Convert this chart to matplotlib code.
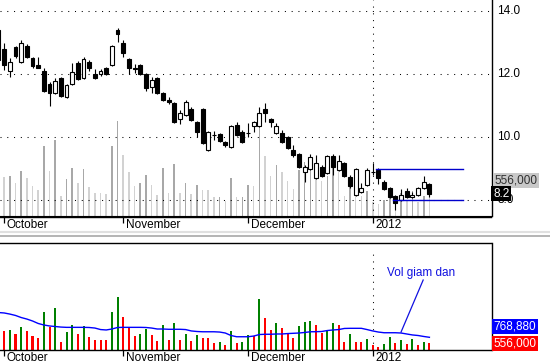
import matplotlib
matplotlib.use("Agg")
import matplotlib.pyplot as plt
from matplotlib.lines import Line2D

plt.rcParams["font.family"] = ["Liberation Sans", "DejaVu Sans"]

# daily candles, Sep 30 2011 .. Jan 2012 (price, thousand VND)
opens = [13.40, 12.79, 12.10, 12.86, 12.38, 12.89, 12.51, 12.29, 12.10, 11.68,
         11.40, 11.87, 11.27, 11.68, 12.35, 11.87, 12.38, 12.00, 12.00, 12.19,
         12.29, 13.40, 12.98, 12.48, 12.19, 12.29, 12.00, 11.59, 11.87, 11.40,
         11.17, 11.08, 10.57, 10.70, 10.89, 10.48, 10.89, 9.59, 10.07, 10.10,
         9.84, 9.68, 10.38, 10.16, 10.13, 10.35, 10.35, 10.89, 10.57, 10.13,
         10.13, 10.00, 9.59, 9.46, 8.89, 8.98, 8.70, 9.05, 8.86, 9.40,
         8.95, 9.17, 8.73, 8.16, 8.25, 8.47, 8.89, 8.95, 8.57, 8.38,
         8.13, 8.00, 8.29, 8.10, 8.16, 8.38, 8.51]
highs = [13.56, 12.98, 12.51, 12.89, 13.08, 12.95, 12.54, 12.54, 12.19, 11.75,
         11.87, 11.90, 11.68, 12.35, 12.41, 12.54, 12.44, 12.16, 12.16, 12.22,
         12.92, 13.46, 13.08, 12.51, 12.32, 12.32, 12.03, 11.90, 11.90, 11.43,
         11.27, 11.11, 10.86, 11.17, 10.95, 10.51, 10.92, 10.19, 10.19, 10.13,
         9.87, 10.38, 10.48, 10.22, 10.44, 10.51, 10.95, 11.08, 10.60, 10.44,
         10.22, 10.03, 9.75, 9.49, 9.11, 9.46, 9.43, 9.11, 9.43, 9.46,
         9.43, 9.21, 8.79, 9.02, 8.54, 9.02, 9.17, 9.02, 8.63, 8.41,
         8.16, 8.35, 8.38, 8.25, 8.41, 8.76, 8.54]
lows = [12.22, 12.13, 11.90, 12.51, 12.35, 12.51, 12.19, 12.19, 11.43, 10.98,
        11.37, 11.27, 11.24, 11.65, 11.81, 11.84, 12.10, 11.84, 11.94, 11.97,
        12.25, 13.02, 12.54, 12.00, 12.03, 11.97, 11.46, 11.40, 11.37, 11.14,
        11.05, 10.44, 10.41, 10.67, 10.51, 10.00, 9.78, 9.56, 9.90, 9.84,
        9.68, 9.65, 10.03, 9.81, 10.00, 10.16, 10.32, 10.48, 10.32, 10.10,
        9.81, 9.62, 9.37, 9.02, 8.57, 8.95, 8.67, 8.73, 8.83, 8.79,
        8.92, 8.73, 8.38, 8.13, 8.22, 8.44, 8.79, 8.51, 8.32, 8.06,
        7.68, 7.97, 8.06, 8.06, 8.13, 8.35, 8.10]
closes = [12.44, 12.29, 12.38, 12.57, 12.98, 12.54, 12.25, 12.19, 11.46, 11.40,
          11.78, 11.30, 11.65, 12.06, 11.84, 12.48, 12.19, 11.87, 12.10, 12.00,
          12.89, 13.27, 12.67, 12.19, 12.17, 12.00, 11.56, 11.81, 11.40, 11.17,
          11.11, 10.48, 10.76, 11.11, 10.54, 10.16, 9.81, 10.16, 10.06, 9.87,
          9.75, 10.35, 10.06, 9.84, 10.14, 10.48, 10.76, 10.76, 10.48, 10.35,
          9.84, 9.65, 9.43, 9.05, 9.05, 9.37, 9.17, 8.76, 9.40, 9.05,
          9.24, 8.76, 8.44, 8.98, 8.38, 8.95, 8.90, 8.70, 8.35, 8.10,
          7.90, 8.16, 8.10, 8.16, 8.38, 8.57, 8.20]

# volume (thousand shares) and its moving average
volume = [1500, 1420, 1470, 1180, 1710, 1400, 1060, 870, 2800, 1710,
          3060, 600, 1350, 1830, 1180, 1790, 990, 750, 740, 720,
          2800, 3880, 2390, 1640, 1030, 1180, 1540, 1110, 670, 1810,
          750, 2000, 750, 1160, 700, 1080, 890, 870, 560, 570,
          410, 1400, 560, 570, 1110, 1030, 3710, 2360, 1470, 1950,
          1640, 1280, 920, 1760, 2080, 2150, 1830, 1280, 1470, 1950,
          1830, 630, 1160, 630, 610, 820, 360, 270, 460, 940,
          560, 750, 460, 820, 360, 600, 556]
vol_ma = [2730, 2700, 2620, 2520, 2370, 2260, 2120, 1940, 1830, 1760,
          1720, 1680, 1660, 1660, 1660, 1660, 1650, 1610, 1500, 1470,
          1540, 1650, 1660, 1660, 1660, 1660, 1650, 1610, 1540, 1540,
          1520, 1520, 1520, 1500, 1400, 1360, 1340, 1340, 1340, 1320,
          1250, 1070, 980, 980, 980, 1030, 1140, 1160, 1160, 1180,
          1180, 1210, 1230, 1250, 1290, 1340, 1345, 1360, 1430, 1470,
          1500, 1580, 1590, 1590, 1590, 1500, 1400, 1320, 1270, 1270,
          1270, 1250, 1180, 1110, 1070, 1000, 940]
ma_label = "768,880"

month_starts = [1, 22, 44, 66]
month_names = ["October", "November", "December", "2012"]
price_ticks = [14.0, 12.0, 10.0, 8.0]

# trend lines drawn on the chart (level, start bar, end bar)
resistance = (9.0, 66.6, 81.9)
support = (8.0, 69.6, 81.9)

W, H = 550, 364
fig = plt.figure(figsize=(W / 100, H / 100), dpi=100)
fig.patch.set_facecolor("white")

ax = fig.add_axes([0, (H - 216.5) / H, 491.5 / W, 216.5 / H])
axv = ax.twinx()
axb = fig.add_axes([0, (H - 350.3) / H, 491.5 / W, (350.3 - 243) / H])

n = len(closes)
xs = list(range(n))
xlim = (0.265, 86.95)
dots = (0, (1, 5.5))

# volume overlay in the price panel
vol_up = [i == 0 or volume[i] >= volume[i - 1] for i in xs]
v_lo = -273
axv.bar(xs, [v - v_lo for v in volume], bottom=v_lo, width=0.28,
        color=["#a8a8a8" if u else "#d2d2d2" for u in vol_up], zorder=1)
axv.set_ylim(v_lo, 9111)
axv.set_yticks([])
ax.set_zorder(axv.get_zorder() + 1)
ax.patch.set_visible(False)

# grid
for p in price_ticks:
    ax.axhline(p, color="black", lw=0.75, linestyle=dots, zorder=2)
ax.axvline(month_starts[-1], color="black", lw=0.75, linestyle=dots, zorder=2)

# candles
ax.vlines(xs, lows, highs, color="black", lw=0.8, zorder=3)
bot = [min(o, c) for o, c in zip(opens, closes)]
hgt = [abs(c - o) for o, c in zip(opens, closes)]
fc = ["white" if c >= o else "black" for o, c in zip(opens, closes)]
ax.bar(xs, hgt, bottom=bot, width=0.68, color=fc, edgecolor="black",
       linewidth=0.8, zorder=4)

for lvl, x0, x1 in (resistance, support):
    ax.plot([x0, x1], [lvl, lvl], color="#0000cc", lw=1.0, zorder=5)

ax.set_xlim(*xlim)
axv.set_xlim(*xlim)
ax.set_ylim(7.476, 14.35)
for s in ("top", "left"):
    ax.spines[s].set_visible(False)
    axv.spines[s].set_visible(False)
ax.spines["right"].set_visible(False)
axv.spines["right"].set_linewidth(1.0)
ax.spines["bottom"].set_linewidth(1.0)
ax.set_yticks([])
ax.set_xticks(month_starts)
ax.set_xticklabels([])
ax.tick_params(axis="x", direction="out", length=4, width=0.9)

for m, name in zip(month_starts, month_names):
    ax.annotate(name, xy=(m, 0), xycoords=("data", "axes fraction"),
                xytext=(2, -6), textcoords="offset points",
                ha="left", va="center", fontsize=8.5)
    axb.annotate(name, xy=(m, 0), xycoords=("data", "axes fraction"),
                 xytext=(2, -5.3), textcoords="offset points",
                 ha="left", va="center", fontsize=8.5)

for p in price_ticks:
    ax.annotate(f"{p:.1f}", xy=(1, p), xycoords=("axes fraction", "data"),
                xytext=(4.3, 0), textcoords="offset points",
                ha="left", va="center", fontsize=8.5, annotation_clip=False)

last_close = closes[-1]
last_vol = volume[-1]
ax.annotate(f"{last_vol * 1000:,}", xy=(1, last_close),
            xycoords=("axes fraction", "data"), xytext=(2, 9.6),
            textcoords="offset points", ha="left", va="center",
            fontsize=8.5, color="#303030", annotation_clip=False,
            bbox=dict(boxstyle="square,pad=0.12", fc="#c8c8c8", ec="none"))
ax.annotate(f"{last_close:.1f}", xy=(1, last_close),
            xycoords=("axes fraction", "data"), xytext=(1.2, 0),
            textcoords="offset points", ha="left", va="center",
            fontsize=8.5, color="white", annotation_clip=False,
            bbox=dict(boxstyle="square,pad=0.15", fc="black", ec="none"))

# volume panel
axb.bar(xs, volume, width=0.36,
        color=["#008000" if u else "#ff0000" for u in vol_up], zorder=2)
axb.plot(xs, vol_ma, color="#0000ff", lw=1.0, zorder=3)
axb.plot([month_starts[-1]] * 2, [0, 7000], color="black", lw=0.75,
         linestyle=dots, zorder=1)
axb.set_xlim(*xlim)
axb.set_ylim(0, 7760)
axb.spines["left"].set_visible(False)
for s in ("top", "right", "bottom"):
    axb.spines[s].set_linewidth(1.0)
axb.set_yticks([])
axb.set_xticks(month_starts)
axb.set_xticklabels([])
axb.tick_params(axis="x", direction="out", length=4, width=0.9)

axb.annotate(ma_label, xy=(1, last_vol), xycoords=("axes fraction", "data"),
             xytext=(1.5, 11.5), textcoords="offset points", ha="left",
             va="center", fontsize=8.5, color="white", annotation_clip=False,
             bbox=dict(boxstyle="square,pad=0.12", fc="#0000ff", ec="none"))
axb.annotate(f"{last_vol * 1000:,}", xy=(1, last_vol),
             xycoords=("axes fraction", "data"), xytext=(1.5, -0.6),
             textcoords="offset points", ha="left", va="center",
             fontsize=8.5, color="white", annotation_clip=False,
             bbox=dict(boxstyle="square,pad=0.12", fc="#ff0000", ec="none"))

axb.text(74.6, 5589, "Vol giam dan", color="#1010e0", fontsize=8.5,
         ha="center", va="center")
axb.plot([74.9, 71.0], [5083, 1323], color="#1010e0", lw=0.9)

# separator between panels
fig.add_artist(Line2D([0, 1], [1 - 232 / H] * 2, color="#e0e0e0", lw=1.5))
fig.add_artist(Line2D([0, 1], [1 - 235.5 / H] * 2, color="#a8a8a8", lw=1.2))

fig.savefig("out.png", dpi=100, facecolor="white")
